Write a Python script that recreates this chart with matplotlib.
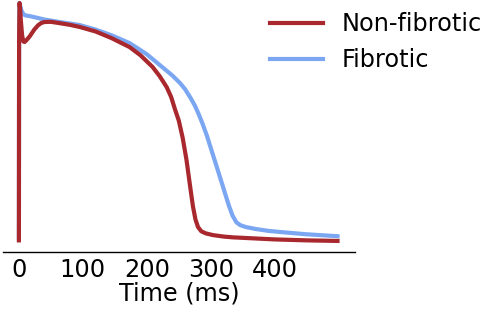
import numpy as np
import matplotlib
matplotlib.use("Agg")
import matplotlib.pyplot as plt

# action potential traces (time in ms, membrane voltage in mV)
t_nonfib = [0, 0.3, 1, 2, 3, 5, 7, 9, 12, 17, 24, 30, 35, 40, 50, 60, 80, 95, 120,
            145, 173, 190, 209, 220, 231, 238, 244, 250, 256, 262, 267, 272, 276,
            280, 285, 292, 303, 320, 334, 370, 400, 450, 498]
v_nonfib = [-85, 20, 40, 37, 31, 23, 19.7, 19.5, 20.5, 22.5, 26, 28.3, 29.5, 30,
            30.1, 29.6, 28.5, 27.4, 25, 21.5, 16.8, 12.5, 6.3, 1.5, -4.3, -9.5, -16,
            -22, -31, -42.7, -55, -67, -74, -78, -80.2, -81.3, -82.2, -83, -83.4,
            -84, -84.5, -85, -85.3]

t_fib = [0, 0.3, 1, 2, 4, 7, 10, 17, 25, 40, 60, 80, 95, 120, 145, 173, 200, 225,
         240, 252, 260, 268, 275, 281, 287, 294, 301, 309, 316, 322, 328, 334, 340,
         346, 355, 370, 390, 412, 450, 498]
v_fib = [-84, 20, 40, 38.5, 36, 34.2, 33.5, 33.1, 32.5, 31.3, 30.2, 29.2, 28.4, 26,
         23, 18.9, 13, 6.0, 1.8, -2.2, -5.5, -9.8, -14, -18.5, -23.5, -30, -37.5, -46,
         -53.5, -60, -66.5, -72, -75.5, -77, -78, -79, -80, -80.7, -81.8, -82.8]

labels = ["Non-fibrotic", "Fibrotic"]
colors = ["#a8282e", "#7ba7f2"]

fig = plt.figure(figsize=(4.84, 3.09), dpi=100)
ax = fig.add_axes([0.006, 0.184, 0.727, 0.816])

ax.plot(t_nonfib, v_nonfib, color=colors[0], lw=3, label=labels[0], zorder=3,
        solid_joinstyle="round")
ax.plot(t_fib, v_fib, color=colors[1], lw=3, label=labels[1], zorder=2,
        solid_joinstyle="round")

ax.set_xlim(-25, 525)
ax.set_ylim(-91.2, 41.6)
ax.set_xticks([0, 100, 200, 300, 400])
ax.set_yticks([])
ax.tick_params(axis="x", length=0, pad=4, labelsize=17.3)
for s in ["left", "right", "top"]:
    ax.spines[s].set_visible(False)
ax.spines["bottom"].set_linewidth(1)
ax.set_xlabel("Time (ms)", fontsize=17.3, labelpad=0)

fig.legend(loc="upper left", bbox_to_anchor=(0.513, 1.03), frameon=False,
           fontsize=17.3, handlelength=2.2, handletextpad=0.8, labelspacing=0.5)

fig.savefig("out.png", dpi=100)
